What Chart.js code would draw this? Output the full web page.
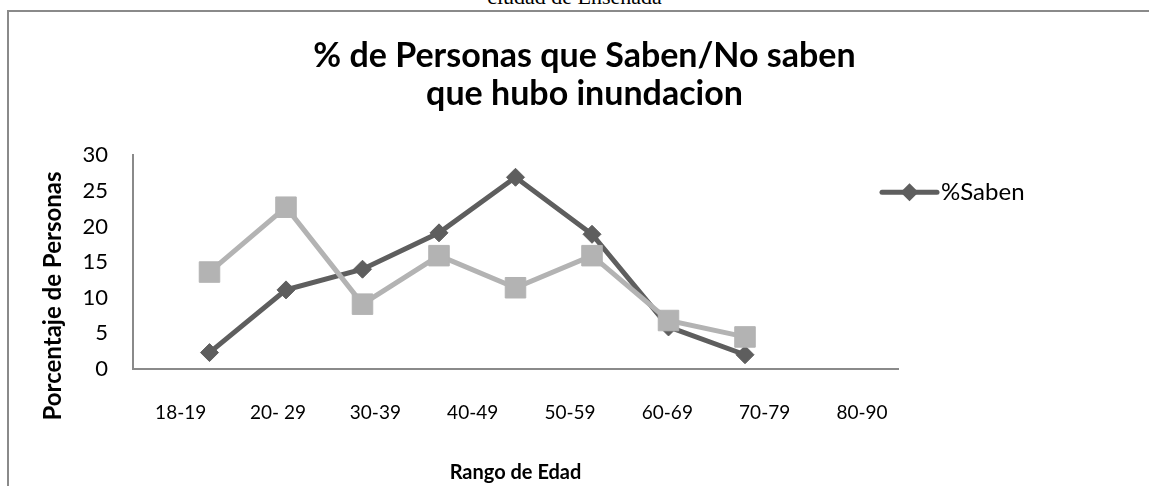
<!DOCTYPE html>
<html>
<head>
<meta charset="utf-8">
<script src="https://cdn.jsdelivr.net/npm/chart.js@4.4.1/dist/chart.umd.min.js"></script>
<style>
body { margin: 0; background: #fff; }
#wrap { position: relative; width: 1149px; height: 486px; overflow: hidden; }
#cap { position: absolute; top: -16px; left: 0; width: 1149px; text-align: center; font-family: "Liberation Serif", serif; font-size: 22px; color: #000; }
#frame { position: absolute; left: 7px; top: 10px; width: 1200px; height: 600px; border-left: 2px solid #8a8a8a; border-top: 2px solid #8a8a8a; }
canvas { position: absolute; left: 0; top: 0; }
</style>
</head>
<body>
<div id="wrap">
  <div id="cap">ciudad de Ensenada</div>
  <div id="frame"></div>
  <canvas id="myChart" width="1149" height="486"></canvas>
</div>
<script>
// datos
var rangos = ['18-19', '20- 29', '30-39', '40-49', '50-59', '60-69', '70-79', '80-90'];
var saben = [2.3, 11.1, 14.0, 19.1, 26.9, 18.9, 5.9, 2.0];
var noSaben = [13.6, 22.7, 9.1, 15.9, 11.4, 15.9, 6.8, 4.5];
var yMax = 30;
var yPaso = 5;

var oscuro = '#5e5e5e';
var claro = '#b3b3b3';
var fuente = 'Lato, "Open Sans", sans-serif';

function puntos(valores) {
    return valores.map(function(v, i) {
        return { x: i + 1, y: v };
    });
}

// titulo del eje y y la leyenda (solo %Saben)
var textosExtra = {
    id: 'textosExtra',
    afterDraw: function(chart) {
        var ctx = chart.ctx;
        var area = chart.chartArea;
        ctx.save();
        ctx.fillStyle = '#000';
        ctx.font = 'bold 24px ' + fuente;
        ctx.textAlign = 'center';
        ctx.textBaseline = 'middle';
        ctx.translate(53, 296);
        ctx.rotate(-Math.PI / 2);
        ctx.fillText('Porcentaje de Personas', 0, 0);
        ctx.restore();

        var ds = chart.data.datasets[0];
        var x0 = area.right - 16;
        var y0 = area.top + 37;
        ctx.save();
        ctx.strokeStyle = ds.borderColor;
        ctx.lineWidth = 5;
        ctx.lineCap = 'round';
        ctx.beginPath();
        ctx.moveTo(x0, y0);
        ctx.lineTo(x0 + 55, y0);
        ctx.stroke();
        ctx.fillStyle = ds.borderColor;
        ctx.beginPath();
        ctx.moveTo(x0 + 27.5 - 9, y0);
        ctx.lineTo(x0 + 27.5, y0 - 9);
        ctx.lineTo(x0 + 27.5 + 9, y0);
        ctx.lineTo(x0 + 27.5, y0 + 9);
        ctx.closePath();
        ctx.fill();
        ctx.fillStyle = '#000';
        ctx.font = '24px ' + fuente;
        ctx.textAlign = 'left';
        ctx.textBaseline = 'middle';
        ctx.fillText(ds.label, x0 + 59, y0);
        ctx.restore();
    }
};

var ctx = document.getElementById('myChart').getContext('2d');
var myChart = new Chart(ctx, {
    type: 'line',
    data: {
        datasets: [{
            label: '%Saben',
            data: puntos(saben),
            borderColor: oscuro,
            backgroundColor: oscuro,
            borderWidth: 5,
            pointStyle: 'rectRot',
            pointRadius: 9,
            pointBorderWidth: 1,
            order: 2
        }, {
            label: '%No saben',
            data: puntos(noSaben),
            borderColor: claro,
            backgroundColor: claro,
            borderWidth: 5,
            pointStyle: 'rect',
            pointRadius: 14.5,
            pointBorderWidth: 1,
            order: 1
        }]
    },
    options: {
        responsive: false,
        animation: false,
        layout: { padding: { left: 20, right: 0, top: 0, bottom: 0 } },
        plugins: {
            legend: { display: false },
            tooltip: { enabled: false },
            title: {
                display: true,
                text: ['% de Personas que Saben/No saben', 'que hubo inundacion'],
                color: '#000',
                font: { family: fuente, size: 34, weight: 'bold', lineHeight: 1.12 },
                padding: { top: 37, bottom: 42 }
            }
        },
        scales: {
            x: {
                type: 'linear',
                min: 0,
                max: 10,
                grid: { display: false, drawTicks: false },
                border: { color: '#8a8a8a', width: 2 },
                ticks: { display: false },
                afterFit: function(s) { s.height = 0; }
            },
            xLab: {
                type: 'linear',
                position: 'bottom',
                weight: 1,
                min: -0.49,
                max: 7.37,
                grid: { display: false, drawTicks: false },
                border: { display: false },
                afterBuildTicks: function(s) {
                    s.ticks = rangos.map(function(r, i) { return { value: i }; });
                },
                ticks: {
                    color: '#000',
                    font: { family: fuente, size: 19 },
                    padding: 32,
                    maxRotation: 0,
                    autoSkip: false,
                    callback: function(v) { return rangos[v]; }
                },
                title: {
                    display: true,
                    text: 'Rango de Edad',
                    color: '#000',
                    font: { family: fuente, size: 20, weight: 'bold' },
                    padding: { top: 38, bottom: 1 }
                },
                afterFit: function(s) { s.height = 117; }
            },
            y: {
                min: 0,
                max: yMax,
                grid: { display: false, drawTicks: false },
                border: { color: '#8a8a8a', width: 2 },
                ticks: {
                    stepSize: yPaso,
                    color: '#000',
                    font: { family: fuente, size: 22 },
                    padding: 25
                },
                afterFit: function(s) { s.width = 113; }
            },
            // espacio vacio a la derecha donde va la leyenda
            yDer: {
                type: 'linear',
                position: 'right',
                grid: { display: false, drawTicks: false },
                border: { display: false },
                ticks: { display: false },
                afterFit: function(s) { s.width = 251; }
            }
        }
    },
    plugins: [textosExtra]
});
</script>
</body>
</html>
